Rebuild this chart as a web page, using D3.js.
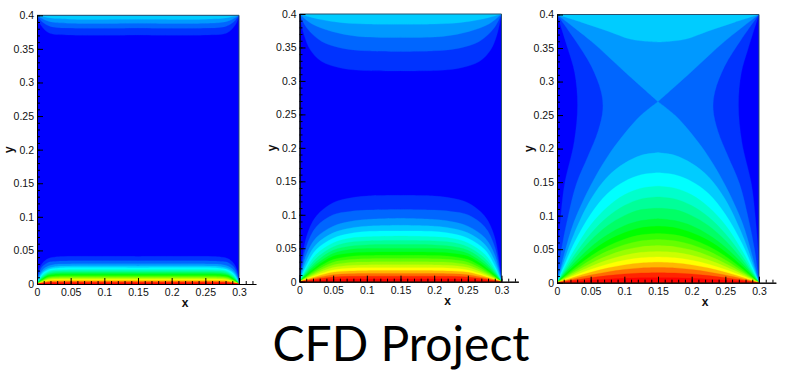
<!DOCTYPE html>
<html>
<head>
<meta charset="utf-8">
<script src="https://cdnjs.cloudflare.com/ajax/libs/d3/7.8.5/d3.min.js"></script>
<style>
  html, body { margin: 0; background: #fff; }
  svg { display: block; }
  .tick text { font: 10.5px "Liberation Sans", Arial, sans-serif; fill: #111; }
  .axis-name { font: bold 12px "Liberation Sans", Arial, sans-serif; fill: #111; }
  .title { font: 48px Lato, "Noto Sans", sans-serif; fill: #000; }
</style>
</head>
<body>
<script>
// tick labels
const xTicks = [0, 0.05, 0.1, 0.15, 0.2, 0.25, 0.3];
const yTicks = [0, 0.05, 0.1, 0.15, 0.2, 0.25, 0.3, 0.35, 0.4];
const title = "CFD Project";

// contour level -> colour, level 0 is the background
const levelStops = [0, 5, 10, 15, 18.5];
const levelColors = ["#0000ff", "#00ffff", "#00ff00", "#ffff00", "#ff0000"];
const levelCount = 19;

// every contour is kept as its left half, the plots are symmetric about x = 0.15
// bottom contours: y heights at the given x stations, first row is level 1
const p1Xs = [0.003, 0.008, 0.016, 0.024, 0.032, 0.15];
const p1Bottom = [
  [0.021, 0.031, 0.0375, 0.0398, 0.0407, 0.041],
  [0.0165, 0.026, 0.0318, 0.0334, 0.034, 0.0344],
  [0.0127, 0.021, 0.0264, 0.0286, 0.0296, 0.0301],
  [0.0099, 0.0178, 0.0232, 0.0254, 0.0264, 0.0268],
  [0.0076, 0.0153, 0.0207, 0.0229, 0.0239, 0.0241],
  [0.0062, 0.013, 0.0184, 0.0207, 0.0213, 0.0217],
  [0.0051, 0.0111, 0.0165, 0.0188, 0.0194, 0.0196],
  [0.0043, 0.0095, 0.0149, 0.0169, 0.0175, 0.0176],
  [0.0037, 0.0083, 0.0134, 0.0153, 0.0157, 0.0158],
  [0.0031, 0.0072, 0.0121, 0.0135, 0.014, 0.0141],
  [0.0026, 0.0062, 0.0105, 0.012, 0.0124, 0.0125],
  [0.0023, 0.0053, 0.0092, 0.0105, 0.0109, 0.011],
  [0.0019, 0.0045, 0.008, 0.0092, 0.0094, 0.0095],
  [0.0016, 0.0038, 0.0067, 0.0077, 0.008, 0.0081],
  [0.0013, 0.0031, 0.0056, 0.0064, 0.0066, 0.0067],
  [0.001, 0.0025, 0.0045, 0.0051, 0.0052, 0.0053],
  [0.0008, 0.0018, 0.0033, 0.0038, 0.0039, 0.0039],
  [0.0005, 0.0012, 0.0022, 0.0025, 0.0026, 0.0026],
  [0.0003, 0.0006, 0.0011, 0.0013, 0.0013, 0.0013]
];
const p1Top = [
  [[0, 0.4], [0.004, 0.388], [0.01, 0.38], [0.019, 0.3733], [0.05, 0.3707], [0.15, 0.3707]],
  [[0, 0.4], [0.008, 0.39], [0.02, 0.3835], [0.05, 0.381], [0.15, 0.381]],
  [[0, 0.4], [0.012, 0.393], [0.025, 0.3895], [0.05, 0.388], [0.15, 0.388]],
  [[0, 0.4], [0.02, 0.396], [0.05, 0.3943], [0.15, 0.394]]
];

const p2Xs = [0.01, 0.025, 0.05, 0.075, 0.1, 0.15];
const p2Bottom = [
  [0.066, 0.098, 0.118, 0.125, 0.128, 0.129],
  [0.052, 0.082, 0.1, 0.105, 0.107, 0.108],
  [0.04, 0.066, 0.083, 0.09, 0.093, 0.0948],
  [0.031, 0.056, 0.073, 0.08, 0.083, 0.0844],
  [0.024, 0.048, 0.065, 0.072, 0.075, 0.0757],
  [0.0195, 0.041, 0.058, 0.065, 0.067, 0.0682],
  [0.016, 0.035, 0.052, 0.059, 0.061, 0.0617],
  [0.0135, 0.03, 0.047, 0.053, 0.055, 0.0554],
  [0.0115, 0.026, 0.042, 0.048, 0.0495, 0.0497],
  [0.0098, 0.0225, 0.038, 0.0425, 0.044, 0.0444],
  [0.0083, 0.0195, 0.033, 0.0378, 0.039, 0.0394],
  [0.0071, 0.0168, 0.029, 0.033, 0.0342, 0.0345],
  [0.006, 0.0143, 0.025, 0.0288, 0.0296, 0.0299],
  [0.005, 0.012, 0.0212, 0.0243, 0.0251, 0.0253],
  [0.004, 0.0098, 0.0175, 0.0201, 0.0207, 0.0209],
  [0.0032, 0.0078, 0.014, 0.016, 0.0165, 0.0167],
  [0.0024, 0.0058, 0.0104, 0.0119, 0.0123, 0.0124],
  [0.0016, 0.0039, 0.0069, 0.008, 0.0082, 0.0083],
  [0.0008, 0.0019, 0.0034, 0.004, 0.0041, 0.0041]
];
const p2Top = [
  [[0, 0.4], [0.006, 0.3715], [0.016, 0.3465], [0.033, 0.329], [0.063, 0.319], [0.098, 0.3155], [0.15, 0.315]],
  [[0, 0.4], [0.011, 0.379], [0.033, 0.359], [0.063, 0.349], [0.098, 0.345], [0.15, 0.344]],
  [[0, 0.4], [0.018, 0.3855], [0.048, 0.374], [0.0875, 0.3665], [0.15, 0.365]],
  [[0, 0.4], [0.03, 0.392], [0.063, 0.387], [0.1, 0.385], [0.15, 0.3845]]
];

const p3Xs = [0.01, 0.025, 0.05, 0.075, 0.1, 0.125, 0.15];
// levels 1 and 2 run down the side walls, level 3 comes to the saddle point
const p3Sides = [
  [[0, 0.4], [0.0164, 0.348], [0.0263, 0.313], [0.0305, 0.265], [0.0255, 0.21], [0.0114, 0.148], [0.0055, 0.0985], [0.0015, 0.049], [0, 0]],
  [[0, 0.4], [0.0263, 0.3627], [0.051, 0.323], [0.0655, 0.285], [0.068, 0.258], [0.061, 0.226], [0.046, 0.1886], [0.029, 0.148], [0.0164, 0.0985], [0.0065, 0.049], [0, 0]]
];
const p3Bottom = [
  null,
  null,
  [0.04, 0.09, 0.145, 0.188, 0.222, 0.25, 0.27],
  [0.031, 0.072, 0.124, 0.158, 0.178, 0.19, 0.194],
  [0.024, 0.058, 0.102, 0.133, 0.151, 0.161, 0.164],
  [0.0196, 0.0475, 0.086, 0.113, 0.131, 0.141, 0.144],
  [0.0162, 0.04, 0.073, 0.098, 0.115, 0.125, 0.128],
  [0.0137, 0.034, 0.063, 0.085, 0.1, 0.109, 0.111],
  [0.0117, 0.0285, 0.053, 0.0715, 0.085, 0.0926, 0.0955],
  [0.0099, 0.0244, 0.0459, 0.0628, 0.0745, 0.082, 0.0841],
  [0.0085, 0.0209, 0.0396, 0.0544, 0.0649, 0.0714, 0.0735],
  [0.0073, 0.0179, 0.034, 0.0471, 0.0567, 0.0625, 0.0645],
  [0.0061, 0.0151, 0.0288, 0.0401, 0.0486, 0.0538, 0.0554],
  [0.0051, 0.0126, 0.0241, 0.0338, 0.0409, 0.0453, 0.0467],
  [0.0041, 0.0102, 0.0197, 0.0276, 0.0335, 0.0372, 0.0385],
  [0.0032, 0.008, 0.0155, 0.0218, 0.0265, 0.0295, 0.0305],
  [0.0024, 0.0059, 0.0114, 0.0161, 0.0197, 0.022, 0.0227],
  [0.0016, 0.0039, 0.0075, 0.0106, 0.013, 0.0145, 0.015],
  [0.0008, 0.0019, 0.0038, 0.0053, 0.0065, 0.0073, 0.0075]
];
const p3Top = [
  null,
  null,
  [[0, 0.4], [0.051, 0.36], [0.1, 0.315], [0.15, 0.27]],
  [[0, 0.4], [0.036, 0.3886], [0.076, 0.375], [0.11, 0.363], [0.15, 0.3587]]
];

// where each panel sits on the page
const panels = [
  { left: 37, right: 239, top: 15.3, bottom: 284, xs: p1Xs, bottomRows: p1Bottom, topRows: p1Top, sides: [] },
  { left: 299.5, right: 501.5, top: 14, bottom: 281.7, xs: p2Xs, bottomRows: p2Bottom, topRows: p2Top, sides: [] },
  { left: 557, right: 759, top: 14.5, bottom: 282.7, xs: p3Xs, bottomRows: p3Bottom, topRows: p3Top, sides: p3Sides }
];

const width = 800, height = 389;
const xMax = 0.325;
const color = d3.scaleLinear().domain(levelStops).range(levelColors).clamp(true);

const svg = d3.select("body").append("svg").attr("width", width).attr("height", height);
svg.append("rect").attr("width", width).attr("height", height).attr("fill", "#fff");

panels.forEach((p, idx) => {
  const x = d3.scaleLinear().domain([0, 0.3]).range([p.left, p.right]);
  const y = d3.scaleLinear().domain([0, 0.4]).range([p.bottom, p.top]);

  const clipId = `plot-clip-${idx}`;
  svg.append("clipPath").attr("id", clipId).append("rect")
    .attr("x", p.left).attr("y", p.top)
    .attr("width", p.right - p.left).attr("height", p.bottom - p.top);

  const g = svg.append("g").attr("clip-path", `url(#${clipId})`);
  const line = d3.line().x(d => x(d[0])).y(d => y(d[1])).curve(d3.curveCatmullRom);

  // left half, then the mirrored right half, closed along the wall
  function contourPath(half) {
    const mirrored = half.map(d => [0.3 - d[0], d[1]]).reverse();
    return line(half) + line(mirrored).replace("M", "L") + "Z";
  }

  g.append("rect")
    .attr("x", p.left).attr("y", p.top)
    .attr("width", p.right - p.left).attr("height", p.bottom - p.top)
    .attr("fill", color(0));

  // painted from the coldest level up, each one covers the one before
  for (let k = 1; k <= levelCount; ++k) {
    const shapes = [];
    if (p.sides[k - 1]) shapes.push(p.sides[k - 1]);
    if (p.topRows[k - 1]) shapes.push(p.topRows[k - 1]);
    const row = p.bottomRows[k - 1];
    if (row) shapes.push([[0, 0]].concat(row.map((h, i) => [p.xs[i], h])));
    g.selectAll(null).data(shapes).enter().append("path")
      .attr("d", contourPath)
      .attr("fill", color(k))
      .attr("stroke", color(k))
      .attr("stroke-width", 0.3);
  }

  // frame on the top and right sides
  svg.append("path")
    .attr("d", `M${x(0)},${y(0.4)}H${x(0.3)}V${y(0)}`)
    .attr("fill", "none")
    .attr("stroke", "#27506e")
    .attr("stroke-width", 1);

  const xFull = x.copy().domain([0, xMax]).range([x(0), x(xMax)]);
  const minorX = d3.range(0, 33).map(i => i / 100).filter(v => v <= xMax);
  const minorY = d3.range(0, 41).map(i => i / 100);

  // minor ticks
  svg.append("g")
    .attr("transform", `translate(0,${p.bottom})`)
    .call(d3.axisBottom(xFull).tickValues(minorX).tickSizeInner(-3).tickSizeOuter(0).tickFormat(""));
  svg.append("g")
    .attr("transform", `translate(${p.left},0)`)
    .call(d3.axisLeft(y).tickValues(minorY).tickSizeInner(-3).tickSizeOuter(0).tickFormat(""));

  // major ticks with labels
  svg.append("g")
    .attr("transform", `translate(0,${p.bottom})`)
    .call(d3.axisBottom(xFull).tickValues(xTicks).tickSizeInner(-6).tickSizeOuter(0).tickPadding(5).tickFormat(String));
  svg.append("g")
    .attr("transform", `translate(${p.left},0)`)
    .call(d3.axisLeft(y).tickValues(yTicks).tickSizeInner(-6).tickSizeOuter(0).tickPadding(3).tickFormat(String));

  svg.append("text").attr("class", "axis-name")
    .attr("x", x(0.22)).attr("y", p.bottom + 23)
    .attr("text-anchor", "middle").text("x");
  svg.append("text").attr("class", "axis-name")
    .attr("transform", `translate(${p.left - 24},${y(0.2)}) rotate(-90)`)
    .attr("text-anchor", "middle").text("y");
});

svg.append("text").attr("class", "title")
  .attr("x", 401).attr("y", 361)
  .attr("text-anchor", "middle").text(title);
</script>
</body>
</html>
